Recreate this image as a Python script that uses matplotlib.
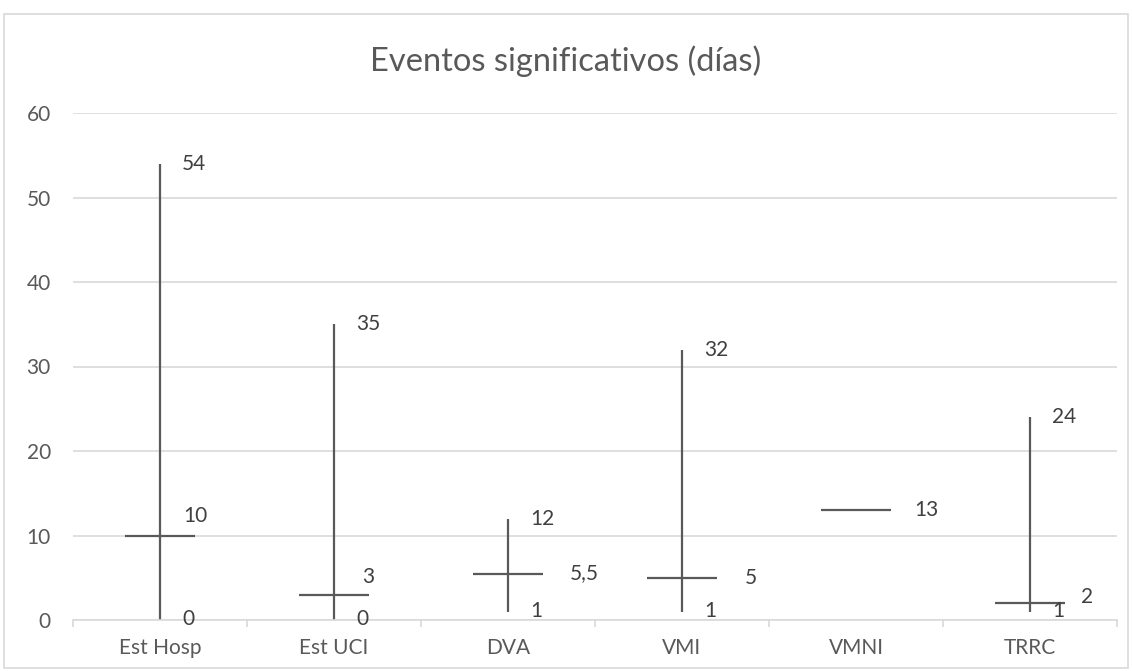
import numpy as np
from matplotlib import pyplot as plt
from matplotlib.patches import Rectangle

categorias = ["Est Hosp", "Est UCI", "DVA", "VMI", "VMNI", "TRRC"]
maximo = [54, 35, 12, 32, np.nan, 24]
minimo = [0, 0, 1, 1, np.nan, 1]
mediana = [10, 3, 5.5, 5, 13, 2]

# label offsets in pixels (dx, dy) for the median values
offsets_mediana = [(35, 19), (34, 18), (76, 0), (69, 0), (70, 0), (57, 6)]


def fmt(v):
    return f"{v:g}".replace(".", ",")


plt.rcParams["font.family"] = ["Lato", "DejaVu Sans"]
line_color = "#595959"
text_color = "#404040"
grid_color = "#d9d9d9"

fig = plt.figure(figsize=(11.32, 6.71), dpi=100)
ax = fig.add_axes([73 / 1132, 51 / 671, 1044 / 1132, 507 / 671])

x = np.arange(len(categorias))
half = 0.2

for i in x:
    if not np.isnan(maximo[i]):
        ax.plot([i, i], [minimo[i], maximo[i]], color=line_color, lw=1.6, solid_capstyle="butt")
    ax.plot([i - half, i + half], [mediana[i], mediana[i]], color=line_color, lw=1.6,
            solid_capstyle="butt")

    lbl = dict(textcoords="offset pixels", ha="center", va="center", fontsize=15,
               color=text_color)
    if not np.isnan(maximo[i]):
        ax.annotate(fmt(maximo[i]), (i, maximo[i]), xytext=(34, 0), **lbl)
        ax.annotate(fmt(minimo[i]), (i, minimo[i]), xytext=(28, 1), **lbl)
    ax.annotate(fmt(mediana[i]), (i, mediana[i]), xytext=offsets_mediana[i], **lbl)

ax.set_xlim(-0.5, len(categorias) - 0.5)
ax.set_ylim(0, 60)
ax.set_yticks(range(0, 61, 10))
ax.yaxis.grid(True, color=grid_color, lw=1.2)
ax.set_axisbelow(True)

ax.set_xticks(x)
ax.set_xticklabels(categorias)
ax.set_xticks(np.arange(-0.5, len(categorias)), minor=True)
ax.tick_params(axis="x", which="major", length=0, pad=13, labelsize=15, labelcolor="#595959")
ax.tick_params(axis="x", which="minor", length=5, color=grid_color, width=1.2)
ax.tick_params(axis="y", length=0, pad=16, labelsize=15, labelcolor="#595959")

for side in ["top", "right", "left"]:
    ax.spines[side].set_visible(False)
ax.spines["bottom"].set_color(grid_color)
ax.spines["bottom"].set_linewidth(1.2)

fig.text(0.5, 1 - 61 / 671, "Eventos significativos (días)", ha="center", va="center",
         fontsize=23.5, color="#595959")

fig.patches.append(Rectangle((4 / 1132, 3 / 671), 1124 / 1132, 654 / 671,
                             transform=fig.transFigure, fill=False, edgecolor=grid_color,
                             lw=1.2))

fig.savefig("out.png", dpi=100)
